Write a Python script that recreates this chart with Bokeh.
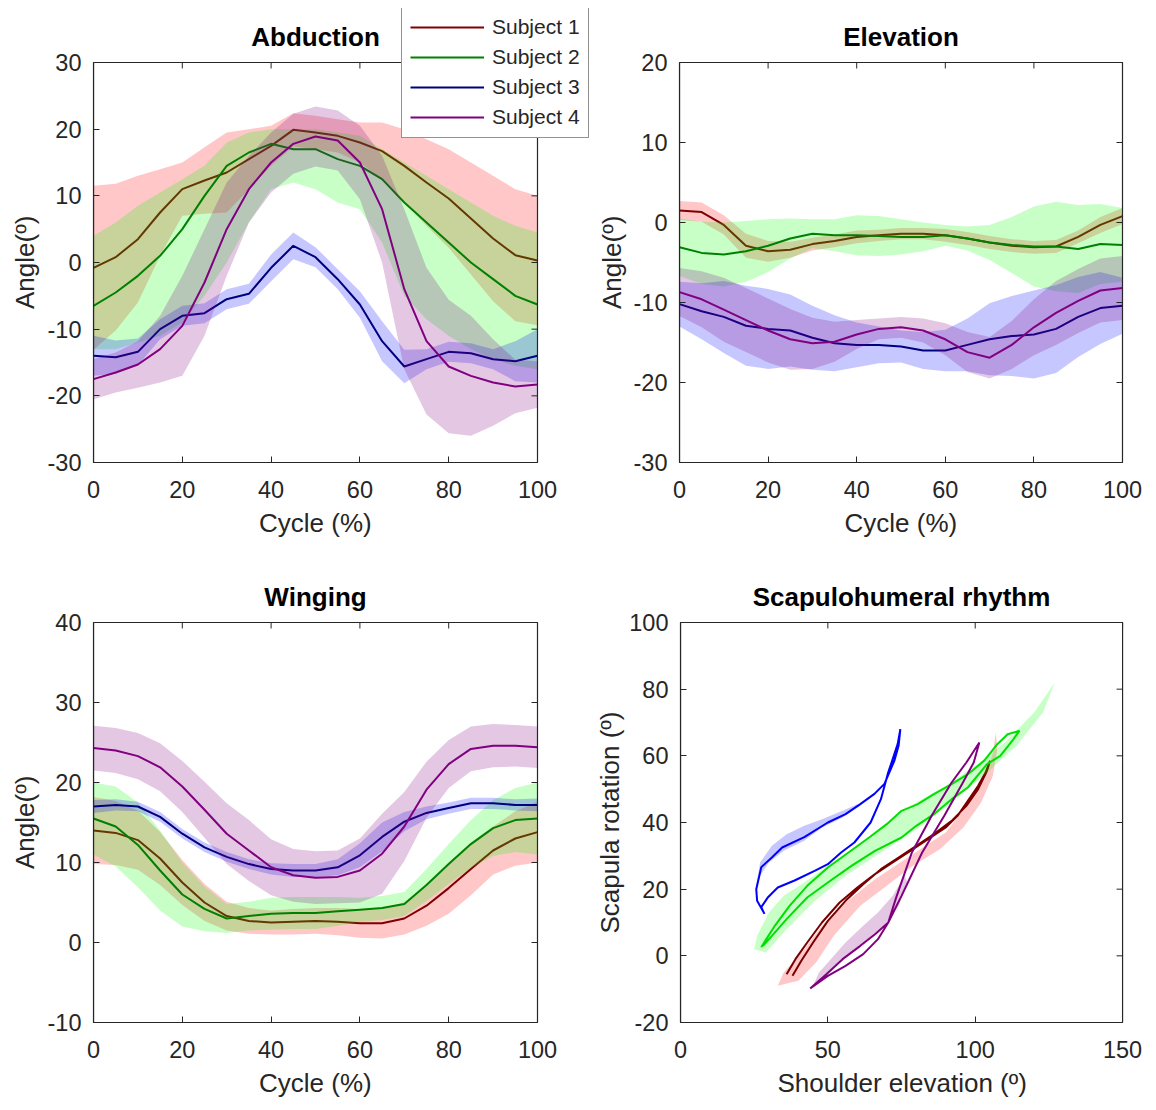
import math
from bokeh.plotting import figure
from bokeh.models import Legend, LegendItem, FixedTicker, Range1d, BoxAnnotation, Label, Title
from bokeh.layouts import row, column
from bokeh.embed import file_html
from bokeh.resources import INLINE

FONT = "Liberation Sans"
AX = "#262626"

# ---------------- data ----------------
cycle = [0, 5, 10, 15, 20, 25, 30, 35, 40, 45, 50, 55, 60, 65, 70, 75, 80, 85, 90, 95, 100]
subjects = ["Subject 1", "Subject 2", "Subject 3", "Subject 4"]
line_colors = ["#800000", "#008000", "#000080", "#800080"]
band_colors = ["#ff0000", "#00ff00", "#0000ff", "#800080"]
shr_line_colors = ["#7a0000", "#00e000", "#0000ff", "#800080"]

cycle_ticks = [0, 20, 40, 60, 80, 100]
abd_yticks = [-30, -20, -10, 0, 10, 20, 30]
elev_yticks = [-30, -20, -10, 0, 10, 20]
wing_yticks = [-10, 0, 10, 20, 30, 40]
shr_xticks = [0, 50, 100, 150]
shr_yticks = [-20, 0, 20, 40, 60, 80, 100]

# Abduction
abd_s1_mean = [-0.8, 0.8, 3.5, 7.5, 11, 12.3, 13.5, 15.5, 17.5, 19.9, 19.5, 19, 18, 16.7, 14.5, 12, 9.6, 6.6, 3.6, 1.1, 0.3]
abd_s1_sd = [12.3, 11, 9.5, 6.5, 4, 5, 6, 4.5, 3, 2.5, 2.5, 2.5, 3, 4.3, 5.5, 6.5, 7.4, 8.4, 9.4, 9.9, 9.7]
abd_s2_mean = [-6.5, -4.5, -2, 1, 5, 10, 14.5, 16.5, 17.8, 17, 17, 15.5, 14.5, 12.5, 9, 6, 3, 0, -2.5, -5, -6.3]
abd_s2_hi = [4, 6, 8.5, 10.5, 12.5, 14.5, 18, 19.5, 20, 20, 20, 19.5, 19, 17, 15, 13, 11, 9, 7, 5.5, 4.5]
abd_s2_lo = [-13, -13, -12, -11, -9, -5, 0, 6, 11, 12, 11, 9, 8, 3, -5, -8.5, -11, -13, -14.5, -15.5, -16]
abd_s3_mean = [-14, -14.2, -13.4, -10, -8, -7.6, -5.5, -4.7, -0.8, 2.5, 0.8, -2.5, -6.3, -11.8, -15.6, -14.5, -13.4, -13.6, -14.5, -14.8, -14]
abd_s3_sd = [3, 2.5, 2, 1.5, 1.5, 1.5, 1.5, 1.5, 2, 2, 1.5, 1.5, 2, 3, 2.5, 1.5, 1.5, 1.5, 1.5, 3, 4]
abd_s4_mean = [-17.5, -16.5, -15.3, -13, -9.5, -3, 5, 11, 15, 17.8, 18.9, 18.3, 15, 8, -4, -11.8, -15.6, -17, -18, -18.6, -18.3]
abd_s4_sd = [3, 3, 3.5, 5, 7.5, 8, 7, 5, 4.5, 4.5, 4.5, 4.5, 5.5, 8, 12, 11, 10, 9, 6.5, 4, 3.5]

# Elevation
elev_s1_mean = [1.5, 1.3, -0.3, -2.9, -3.6, -3.4, -2.7, -2.3, -1.8, -1.6, -1.4, -1.4, -1.6, -2, -2.5, -2.9, -3.1, -3, -1.8, -0.3, 0.8]
elev_s1_sd = [1.2, 1.2, 1.2, 1.5, 1.3, 1, 0.8, 0.8, 0.8, 0.7, 0.7, 0.7, 0.8, 0.8, 0.8, 0.8, 0.8, 0.8, 0.8, 1, 1]
elev_s2_mean = [-3.1, -3.8, -4, -3.6, -2.9, -2, -1.4, -1.6, -1.6, -1.7, -1.8, -1.8, -1.6, -2, -2.5, -2.8, -3, -3, -3.3, -2.7, -2.8]
elev_s2_sd = [3.6, 3.9, 4, 3.8, 3.3, 2.5, 1.8, 2, 2.5, 2.5, 2.2, 1.8, 1.3, 1.5, 2.2, 3.5, 5, 5.6, 5.5, 5, 4.6]
elev_s3_mean = [-10.2, -11.1, -11.8, -12.9, -13.3, -13.5, -14.4, -15.1, -15.3, -15.3, -15.5, -16, -16, -15.3, -14.6, -14.2, -14, -13.3, -11.8, -10.7, -10.4]
elev_s3_sd = [2.8, 3.5, 4.5, 5, 5, 4.5, 4, 3.5, 2.8, 2.3, 2, 2.3, 2.6, 3.3, 4.5, 5, 5.5, 5.5, 5, 4.5, 3.5]
elev_s4_mean = [-8.7, -9.6, -10.9, -12.2, -13.5, -14.6, -15.1, -14.9, -14, -13.3, -13.1, -13.5, -14.6, -16.2, -16.9, -15.3, -13.1, -11.3, -9.8, -8.5, -8.2]
elev_s4_sd = [3, 3.5, 4, 4, 4, 3.8, 3.2, 2.5, 1.8, 1.3, 1.3, 1.5, 2, 2.5, 2.6, 3, 3.5, 4, 4, 4, 4]

# Winging
wing_s1_mean = [14, 13.7, 12.8, 10.5, 7.5, 5, 3.3, 2.7, 2.5, 2.6, 2.7, 2.6, 2.4, 2.4, 3, 4.6, 6.8, 9.2, 11.5, 13, 13.8]
wing_s1_sd = [4.2, 4, 3.7, 3.3, 2.8, 2.3, 1.8, 1.6, 1.5, 1.6, 1.6, 1.7, 1.8, 1.9, 2, 2.5, 3.2, 3.3, 3, 3.4, 3.8]
wing_s2_mean = [15.5, 14.5, 12.2, 9, 6, 4.2, 3, 3.3, 3.6, 3.7, 3.7, 3.9, 4.1, 4.3, 4.8, 7.2, 9.8, 12.3, 14.3, 15.3, 15.5]
wing_s2_sd = [4.5, 5, 5.3, 5, 4, 2.8, 1.8, 1.8, 2, 2, 2, 1.8, 1.5, 1.5, 1.5, 2, 2.5, 3, 3.5, 4, 4.5]
wing_s3_mean = [17, 17.2, 17, 15.7, 13.6, 11.9, 10.7, 9.8, 9.2, 9, 9, 9.4, 10.9, 13.2, 15.1, 16.2, 16.8, 17.4, 17.4, 17.2, 17.2]
wing_s3_sd = [0.8, 0.7, 0.6, 0.6, 0.6, 0.6, 0.6, 0.6, 0.7, 0.8, 0.8, 1, 1.5, 1.8, 1.2, 0.8, 0.7, 0.7, 0.7, 0.7, 0.8]
wing_s4_mean = [24.3, 24, 23.3, 21.9, 19.5, 16.6, 13.6, 11.5, 9.4, 8.4, 8.1, 8.2, 9, 11.1, 14.5, 19.1, 22.3, 24.2, 24.6, 24.6, 24.4]
wing_s4_sd = [2.8, 2.8, 2.9, 3, 3.2, 3.5, 3.8, 3.8, 3.5, 3.3, 3.3, 3.3, 4, 5, 4.3, 3.5, 3, 2.8, 2.7, 2.6, 2.6]

# Scapulohumeral rhythm loops (shoulder elevation, scapula rotation)
shr_s1_x = [36, 39, 43, 48, 54, 60, 66, 72, 78, 84, 90, 94, 97.5, 101, 103.5, 105, 104, 101, 97, 92, 86, 80, 74, 68, 62, 56, 50, 45, 41, 38]
shr_s1_y = [-5.5, -1, 4, 10, 16, 20.5, 24.5, 28, 31.5, 35, 38.5, 42, 46.5, 51, 55, 58.5, 55.5, 50, 45, 40.5, 36.5, 33, 29.5, 26, 21.5, 16.5, 10.5, 4, -1.5, -6]
shr_s2_x = [27.4, 32, 37, 43, 50, 57, 64, 70, 75, 80.5, 86, 92, 97.5, 103, 107.5, 111, 115, 113, 108.5, 104, 97.5, 92, 86, 80, 75, 66, 58, 50, 43, 36, 31, 28]
shr_s2_y = [2.6, 9, 15, 21, 26.5, 31, 35.5, 39.5, 43.5, 45.5, 48.5, 51.5, 54.5, 58.5, 63.5, 66.5, 67.5, 65, 60, 57.5, 50.5, 47, 42.5, 39, 35.5, 31.5, 27, 22, 17.5, 11, 6, 3]
shr_s3_x = [28.5, 26, 25.7, 27.4, 31, 34.5, 42, 50, 56, 61, 65.8, 69.2, 72.6, 74, 74.6, 73.7, 70.3, 68, 64.5, 59, 54.5, 50, 45.5, 38.7, 33, 29.7, 27.4, 28.5]
shr_s3_y = [12.6, 16.5, 20, 26.6, 29.5, 32.5, 35.6, 40, 42.5, 45.5, 48.6, 51.6, 58.6, 63, 68, 63.6, 54.5, 47, 40, 34, 31, 27.5, 25.5, 22.6, 20.5, 17.6, 14.6, 12.6]
shr_s4_x = [44, 50, 56, 62, 67, 70.5, 73, 78.5, 85.5, 92, 97, 101.4, 99.5, 95.5, 89.5, 82, 75, 70.5, 66, 61, 55, 49.5, 44]
shr_s4_y = [-9.8, -6, -3, 0.5, 5, 10, 17, 31, 42.5, 52, 58, 64, 58, 51.5, 42, 31, 18, 10, 6.5, 3, -1, -5.5, -9.8]

# Scapulohumeral rhythm bands (outline of shaded regions)
shr_band_s1_x = [35, 42, 48, 56, 66, 78, 90, 97, 103, 106, 107, 107.5, 106, 102, 96, 88, 78, 70, 61, 52, 46, 40, 33]
shr_band_s1_y = [-5, 2, 9, 16, 23, 30, 37, 45, 53, 61, 67, 62, 54, 46, 38.5, 32, 26.5, 21, 15, 6, -2, -7.5, -9]
shr_band_s2_x = [25, 26, 30, 35, 42, 50, 60, 70, 80, 90, 100, 110, 120, 127, 123, 114, 104, 92, 80, 68, 56, 45, 36, 29]
shr_band_s2_y = [2, 6, 13, 18, 22, 27, 33, 40, 46, 51, 57, 64, 73, 82, 73, 63, 55, 46, 38, 31, 24, 16, 8, 1]
shr_band_s3_x = [25.5, 27, 31, 36, 42, 48, 55, 60, 61, 55, 48, 42, 35, 30, 27, 26]
shr_band_s3_y = [20, 28, 33, 36.5, 39, 41, 43.5, 45.5, 45, 41.5, 38.5, 34.5, 31.5, 28, 24, 20]
shr_band_s4_x = [45, 47, 51, 56, 62, 67, 72, 76, 77, 74, 70, 65, 59, 53, 48]
shr_band_s4_y = [-9, -5, -1, 4, 9, 13, 18, 24, 22, 15, 10, 6, 2, -2.5, -6.5]


def lo_hi(mean, sd):
    return [m - s for m, s in zip(mean, sd)], [m + s for m, s in zip(mean, sd)]


abd_s1_lo, abd_s1_hi = lo_hi(abd_s1_mean, abd_s1_sd)
abd_s3_lo, abd_s3_hi = lo_hi(abd_s3_mean, abd_s3_sd)
abd_s4_lo, abd_s4_hi = lo_hi(abd_s4_mean, abd_s4_sd)
abd = [(abd_s1_mean, abd_s1_lo, abd_s1_hi), (abd_s2_mean, abd_s2_lo, abd_s2_hi),
       (abd_s3_mean, abd_s3_lo, abd_s3_hi), (abd_s4_mean, abd_s4_lo, abd_s4_hi)]
elev = [(m,) + lo_hi(m, s) for m, s in [(elev_s1_mean, elev_s1_sd), (elev_s2_mean, elev_s2_sd),
                                         (elev_s3_mean, elev_s3_sd), (elev_s4_mean, elev_s4_sd)]]
wing = [(m,) + lo_hi(m, s) for m, s in [(wing_s1_mean, wing_s1_sd), (wing_s2_mean, wing_s2_sd),
                                         (wing_s3_mean, wing_s3_sd), (wing_s4_mean, wing_s4_sd)]]
shr_xs = [shr_s1_x, shr_s2_x, shr_s3_x, shr_s4_x]
shr_ys = [shr_s1_y, shr_s2_y, shr_s3_y, shr_s4_y]
shr_band_xs = [shr_band_s1_x, shr_band_s2_x, shr_band_s3_x, shr_band_s4_x]
shr_band_ys = [shr_band_s1_y, shr_band_s2_y, shr_band_s3_y, shr_band_s4_y]

# approximate rendered widths (px) of the axis titles at 26px, used to centre them on the axes box
LABEL_W = {"Cycle (%)": 113, "Angle(º)": 93, "Shoulder elevation (º)": 249, "Scapula rotation (º)": 222}


def style_axis(ax, ticks, bounds, standoff):
    ax.ticker = FixedTicker(ticks=ticks)
    ax.bounds = bounds
    ax.minor_tick_line_color = None
    ax.major_tick_in = 6
    ax.major_tick_out = 0
    ax.major_tick_line_color = AX
    ax.axis_line_color = AX
    ax.axis_line_width = 1.2
    ax.major_label_overrides = {t: str(t) for t in ticks}
    ax.major_label_text_font = FONT
    ax.major_label_text_color = AX
    ax.major_label_text_font_size = "23.5px"
    ax.major_label_standoff = standoff


def axis_title(text, offset, standoff):
    return Title(text=text, align="left", offset=offset, standoff=standoff,
                 text_font=FONT, text_font_size="26px", text_font_style="normal", text_color=AX)


FRAME_TOP = 8


def make_panel(w, h, box, xlim, ylim, xticks, yticks, title, xlabel, ylabel, ylab_standoff=9):
    """Frame spans from the axes box to the canvas top/right edge; the axes box is drawn inside."""
    bl, br, bt, bb = box
    x0, x1 = xlim
    y0, y1 = ylim
    x_hi = x1 + (w - br) * (x1 - x0) / (br - bl)
    y_hi = y1 + (bt - FRAME_TOP) * (y1 - y0) / (bb - bt)
    p = figure(width=w, height=h, x_range=Range1d(x0, x_hi), y_range=Range1d(y0, y_hi),
               output_backend="svg", toolbar_location=None,
               min_border_left=bl, min_border_right=0, min_border_top=FRAME_TOP,
               min_border_bottom=h - bb)
    p.xgrid.visible = False
    p.ygrid.visible = False
    p.outline_line_color = None
    p.background_fill_color = "white"
    p.border_fill_color = "white"
    style_axis(p.xaxis[0], xticks, (x0, x1), 18)
    style_axis(p.yaxis[0], yticks, (y0, y1), 12)
    p.add_layout(axis_title(xlabel, (br - bl) / 2 - LABEL_W[xlabel] / 2, 11), "below")
    p.add_layout(axis_title(ylabel, (bb - bt) / 2 - LABEL_W[ylabel] / 2, ylab_standoff), "left")
    # top and right edges of the axes box, with inward ticks (mirrored)
    p.add_layout(BoxAnnotation(left=x0, right=x1, bottom=y0, top=y1, fill_alpha=0,
                               line_color=AX, line_width=1.2, line_alpha=1, level="overlay"))
    p.ray(x=xticks, y=[y1] * len(xticks), length=6, angle=-math.pi / 2,
          length_units="screen", line_color=AX, line_width=1, level="overlay")
    p.ray(x=[x1] * len(yticks), y=yticks, length=6, angle=math.pi,
          length_units="screen", line_color=AX, line_width=1, level="overlay")
    t = Label(x=(x0 + x1) / 2, y=y1 + 26 * (y1 - y0) / (bb - bt), text=title,
              text_align="center", text_baseline="middle",
              text_font=FONT, text_font_size="26px", text_font_style="bold", text_color="#000000")
    p.add_layout(t)
    return p


def band_panel(p, series):
    rends = []
    for i, (mean, lo, hi) in enumerate(series):
        p.varea(x=cycle, y1=lo, y2=hi, fill_color=band_colors[i], fill_alpha=0.22)
        rends.append(p.line(cycle, mean, line_color=line_colors[i], line_width=2))
    return rends


LW, RW = 590, 566
TH, BH = 560, 550
LBOX = (93, 537, 62, 462)
RBOX = (89, 532, 62, 462)

p1 = make_panel(LW, TH, LBOX, (0, 100), (-30, 30), cycle_ticks, abd_yticks,
                "Abduction", "Cycle (%)", "Angle(º)")
r1 = band_panel(p1, abd)

legend = Legend(items=[LegendItem(label=subjects[i], renderers=[r1[i]]) for i in range(4)],
                location=(401 - LBOX[0], LBOX[3] - 138))
legend.border_line_color = AX
legend.border_line_width = 1
legend.background_fill_color = "white"
legend.background_fill_alpha = 1
legend.label_text_font = FONT
legend.label_text_font_size = "21px"
legend.label_text_color = AX
legend.glyph_width = 74
legend.glyph_height = 20
legend.label_height = 20
legend.label_standoff = 8
legend.padding = 8
legend.spacing = 6
legend.margin = 0
p1.add_layout(legend)

p2 = make_panel(RW, TH, RBOX, (0, 100), (-30, 20), cycle_ticks, elev_yticks,
                "Elevation", "Cycle (%)", "Angle(º)", ylab_standoff=8)
band_panel(p2, elev)

p3 = make_panel(LW, BH, LBOX, (0, 100), (-10, 40), cycle_ticks, wing_yticks,
                "Winging", "Cycle (%)", "Angle(º)")
band_panel(p3, wing)

p4 = make_panel(RW, BH, RBOX, (0, 150), (-20, 100), shr_xticks, shr_yticks,
                "Scapulohumeral rhythm", "Shoulder elevation (º)", "Scapula rotation (º)",
                ylab_standoff=4)
for i in range(4):
    p4.patch(shr_band_xs[i], shr_band_ys[i], fill_color=band_colors[i], fill_alpha=0.22, line_color=None)
    p4.line(shr_xs[i], shr_ys[i], line_color=shr_line_colors[i], line_width=2)

layout = column(row(p1, p2, spacing=0), row(p3, p4, spacing=0), spacing=0)
open("out.html", "w").write(file_html(layout, INLINE))
